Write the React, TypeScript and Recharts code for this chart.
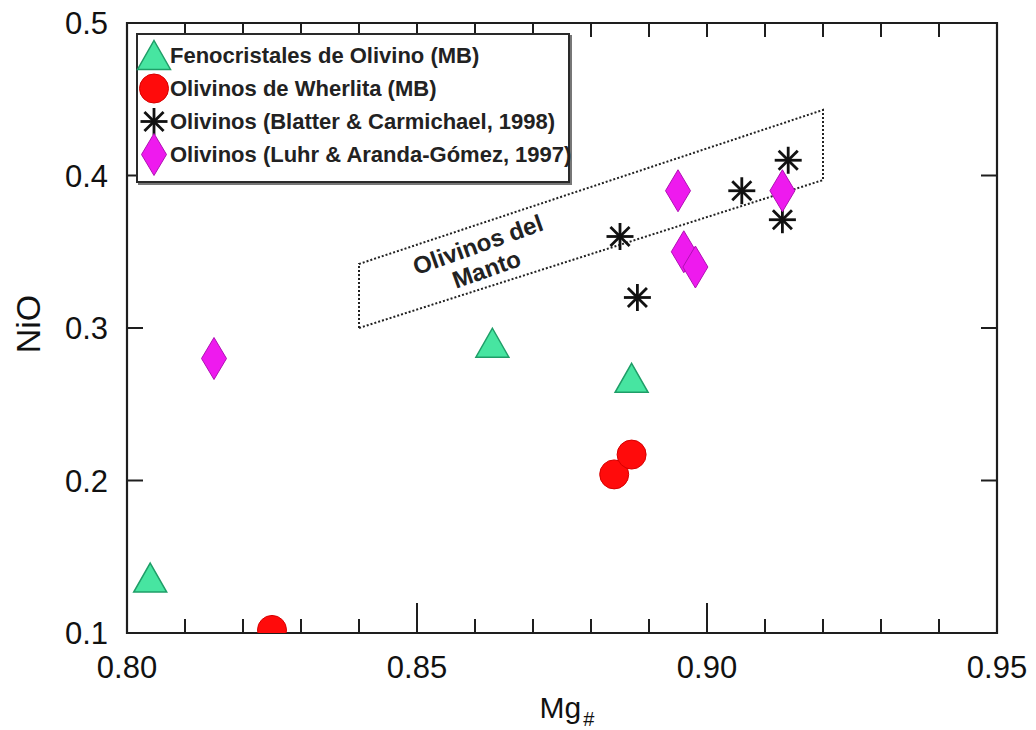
import React from "react";
import { ScatterChart, Scatter, XAxis, YAxis, ReferenceArea, Legend } from "recharts";

const FONT = '"Liberation Sans", Arial, Helvetica, sans-serif';
const INK = "#1e1e1e";

// Fenocristales de Olivino (MB)
const fenoMg = [0.804, 0.863, 0.887];
const fenoNiO = [0.136, 0.29, 0.267];
// Olivinos de Wherlita (MB)
const wherMg = [0.825, 0.884, 0.887];
const wherNiO = [0.102, 0.204, 0.217];
// Blatter & Carmichael, 1998
const blatterMg = [0.885, 0.888, 0.906, 0.913, 0.914];
const blatterNiO = [0.36, 0.32, 0.39, 0.371, 0.41];
// Luhr & Aranda-Gómez, 1997
const luhrMg = [0.815, 0.895, 0.896, 0.898, 0.913];
const luhrNiO = [0.28, 0.39, 0.35, 0.34, 0.39];

// mantle olivine field (dotted outline)
const mantoMg = [0.84, 0.84, 0.92, 0.92, 0.84];
const mantoNiO = [0.3, 0.342, 0.443, 0.397, 0.3];
const mantoText = ["Olivinos del", "Manto"];
const mantoTextMg = [0.8612];
const mantoTextNiO = [0.347];

const xTicks = [0.8, 0.81, 0.82, 0.83, 0.84, 0.85, 0.86, 0.87, 0.88, 0.89, 0.9, 0.91, 0.92, 0.93, 0.94, 0.95];
const yTicks = [0.1, 0.2, 0.3, 0.4, 0.5];
const xDomain = [0.8, 0.95];
const yDomain = [0.1, 0.5];

const toPoints = (xs: number[], ys: number[]) => xs.map((x, i) => ({ x, y: ys[i] }));

const isMajorX = (v: number) => Math.abs(v * 20 - Math.round(v * 20)) < 1e-6;
const isEdgeX = (v: number) => Math.abs(v - xDomain[0]) < 1e-6 || Math.abs(v - xDomain[1]) < 1e-6;

// ---- marker shapes ----
const Triangle = ({ cx, cy }: any) => (
  <polygon
    points={`${cx},${cy - 15} ${cx + 16.5},${cy + 14} ${cx - 16.5},${cy + 14}`}
    fill="#47e5a1"
    stroke="#1f9e68"
    strokeWidth={1.5}
    strokeLinejoin="miter"
  />
);

const Dot = ({ cx, cy }: any) => (
  <circle cx={cx} cy={cy} r={14.5} fill="#ff0b0b" stroke="#d60000" strokeWidth={1} />
);

const Asterisk = ({ cx, cy }: any) => {
  const r = 13.5;
  const d = r * Math.SQRT1_2;
  return (
    <g stroke="#111" strokeWidth={2.8}>
      <line x1={cx - r} y1={cy} x2={cx + r} y2={cy} />
      <line x1={cx} y1={cy - r} x2={cx} y2={cy + r} />
      <line x1={cx - d} y1={cy - d} x2={cx + d} y2={cy + d} />
      <line x1={cx - d} y1={cy + d} x2={cx + d} y2={cy - d} />
    </g>
  );
};

const Diamond = ({ cx, cy }: any) => (
  <polygon
    points={`${cx},${cy - 21} ${cx + 12.5},${cy} ${cx},${cy + 21} ${cx - 12.5},${cy}`}
    fill="#ee1aee"
    stroke="#b010b4"
    strokeWidth={1}
  />
);

const NoMark = () => <g />;

const MantoLabel = ({ cx, cy }: any) => (
  <text
    transform={`rotate(-19.5 ${cx} ${cy})`}
    fontFamily={FONT}
    fontWeight="bold"
    fontSize={24}
    fill="#222"
    textAnchor="middle"
  >
    <tspan x={cx} y={cy - 4}>{mantoText[0]}</tspan>
    <tspan x={cx} y={cy + 22}>{mantoText[1]}</tspan>
  </text>
);

const series = [
  { name: "Fenocristales de Olivino (MB)", data: toPoints(fenoMg, fenoNiO), Shape: Triangle },
  { name: "Olivinos de Wherlita (MB)", data: toPoints(wherMg, wherNiO), Shape: Dot },
  { name: "Olivinos (Blatter & Carmichael, 1998)", data: toPoints(blatterMg, blatterNiO), Shape: Asterisk },
  { name: "Olivinos (Luhr & Aranda-Gómez, 1997)", data: toPoints(luhrMg, luhrNiO), Shape: Diamond },
];

// ---- ticks (drawn inward) ----
const BottomTick = ({ x, y, payload }: any) => {
  const v = payload.value;
  const major = isMajorX(v);
  const len = major && !isEdgeX(v) ? 30 : 14;
  return (
    <g>
      <line x1={x} y1={y} x2={x} y2={y - len} stroke={INK} strokeWidth={2} />
      {major && (
        <text x={x} y={y + 45} textAnchor="middle" fontFamily={FONT} fontSize={31} fill="#111">
          {v.toFixed(2)}
        </text>
      )}
    </g>
  );
};

const TopTick = ({ x, y }: any) => (
  <line x1={x} y1={y} x2={x} y2={y + 14} stroke={INK} strokeWidth={2} />
);

const LeftTick = ({ x, y, payload }: any) => (
  <g>
    <line x1={x} y1={y} x2={x + 16} y2={y} stroke={INK} strokeWidth={2} />
    <text x={x - 19} y={y + 11} textAnchor="end" fontFamily={FONT} fontSize={31} fill="#111">
      {payload.value.toFixed(1)}
    </text>
  </g>
);

const RightTick = ({ x, y }: any) => (
  <line x1={x} y1={y} x2={x - 16} y2={y} stroke={INK} strokeWidth={2} />
);

const MgLabel = ({ viewBox }: any) => {
  const cx = viewBox.x + viewBox.width / 2 + 5;
  return (
    <text x={cx} y={viewBox.y + 85} textAnchor="middle" fontFamily={FONT} fontSize={30} fill="#111">
      Mg
      <tspan fontSize={20} dx={2} dy={8}>#</tspan>
    </text>
  );
};

const NiOLabel = ({ viewBox }: any) => {
  const bx = viewBox.x + 40;
  const cy = viewBox.y + viewBox.height / 2 - 4;
  return (
    <text
      x={bx}
      y={cy}
      transform={`rotate(-90 ${bx} ${cy})`}
      textAnchor="middle"
      fontFamily={FONT}
      fontSize={34}
      fill="#111"
    >
      NiO
    </text>
  );
};

const LegendBox = () => (
  <div
    style={{
      boxSizing: "border-box",
      width: 434,
      height: 150,
      border: "2px solid #2a2a2a",
      boxShadow: "2px 2px 0 #777",
      background: "#fff",
      paddingTop: 4,
      fontFamily: FONT,
    }}
  >
    {series.map((s) => (
      <div key={s.name} style={{ display: "flex", alignItems: "center", height: 33 }}>
        <svg width={32} height={33} style={{ overflow: "visible", flex: "none" }}>
          <s.Shape cx={16} cy={16.5} />
        </svg>
        <span style={{ fontSize: 22, fontWeight: "bold", color: "#222", whiteSpace: "nowrap" }}>{s.name}</span>
      </div>
    ))}
  </div>
);

export default function App() {
  return (
    <div style={{ position: "absolute", left: 0, top: 0, background: "#fff" }}>
      <ScatterChart width={1036} height={730} margin={{ top: 22, right: 38, bottom: 0, left: 0 }}>
        <XAxis
          dataKey="x"
          type="number"
          domain={xDomain}
          ticks={xTicks}
          interval={0}
          allowDataOverflow
          axisLine={false}
          tickLine={false}
          tickSize={0}
          tickMargin={0}
          height={97}
          tick={<BottomTick />}
          label={<MgLabel />}
        />
        <XAxis
          xAxisId="top"
          orientation="top"
          dataKey="x"
          type="number"
          domain={xDomain}
          ticks={xTicks}
          interval={0}
          allowDataOverflow
          axisLine={false}
          tickLine={false}
          tickSize={0}
          tickMargin={0}
          height={1}
          tick={<TopTick />}
        />
        <YAxis
          dataKey="y"
          type="number"
          domain={yDomain}
          ticks={yTicks}
          interval={0}
          allowDataOverflow
          axisLine={false}
          tickLine={false}
          tickSize={0}
          tickMargin={0}
          width={127}
          tick={<LeftTick />}
          label={<NiOLabel />}
        />
        <YAxis
          yAxisId="right"
          orientation="right"
          dataKey="y"
          type="number"
          domain={yDomain}
          ticks={yTicks}
          interval={0}
          allowDataOverflow
          axisLine={false}
          tickLine={false}
          tickSize={0}
          tickMargin={0}
          width={1}
          tick={<RightTick />}
        />
        <ReferenceArea
          x1={xDomain[0]}
          x2={xDomain[1]}
          y1={yDomain[0]}
          y2={yDomain[1]}
          fill="none"
          fillOpacity={0}
          stroke={INK}
          strokeWidth={2.2}
        />
        <Scatter
          name="Olivinos del Manto"
          data={toPoints(mantoMg, mantoNiO)}
          line={{ stroke: "#222", strokeWidth: 2, strokeDasharray: "2 2" }}
          lineType="joint"
          shape={NoMark}
          legendType="none"
          isAnimationActive={false}
        />
        <Scatter
          data={toPoints(mantoTextMg, mantoTextNiO)}
          shape={MantoLabel}
          legendType="none"
          isAnimationActive={false}
        />
        {series.map((s) => (
          <Scatter key={s.name} name={s.name} data={s.data} shape={s.Shape} isAnimationActive={false} />
        ))}
        <Legend
          layout="vertical"
          verticalAlign="middle"
          align="center"
          wrapperStyle={{ left: 136, top: 33, width: 434, height: 150 }}
          content={<LegendBox />}
        />
      </ScatterChart>
    </div>
  );
}
